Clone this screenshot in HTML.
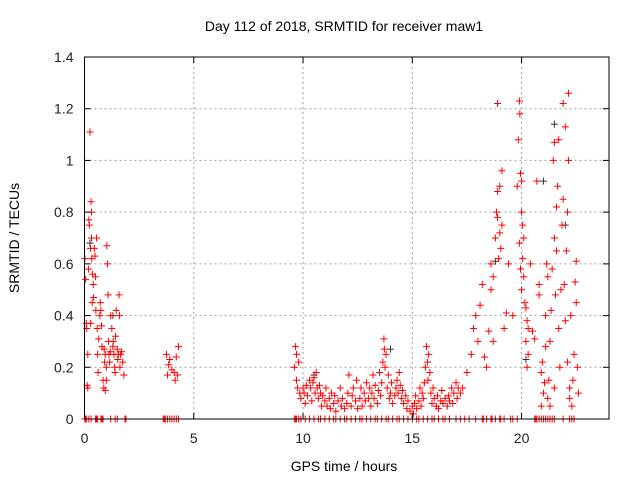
<!DOCTYPE html>
<html><head><meta charset="utf-8"><style>
body{margin:0;background:#fff;}
svg{display:block;font-family:"Liberation Sans",sans-serif;}
</style></head><body>
<svg id="chart" width="640" height="480" xmlns="http://www.w3.org/2000/svg">
<rect width="640" height="480" fill="#fff"/>
<text x="344" y="31" font-size="14" text-anchor="middle" fill="#000">Day 112 of 2018, SRMTID for receiver maw1</text>
<text x="344" y="471" font-size="14" text-anchor="middle" fill="#000">GPS time / hours</text>
<text x="19" y="238" font-size="14" text-anchor="middle" fill="#000" transform="rotate(-90 19 238)">SRMTID / TECUs</text>
<g id="grid"></g>
<g id="marks"></g>
<g id="axes"></g>
</svg>
<script>
const xTicks=[0,5,10,15,20];
const xTickLabels=["0","5","10","15","20"];
const yTicks=[0,0.2,0.4,0.6,0.8,1,1.2,1.4];
const yTickLabels=["0","0.2","0.4","0.6","0.8","1","1.2","1.4"];
const redX=[0.02,0.05,0.08,0.1,0.12,0.15,0.18,0.2,0.22,0.25,0.27,0.3,0.32,0.33,0.35,0.37,0.4,0.42,0.45,0.48,0.5,0.52,0.55,0.58,0.6,0.62,0.65,0.7,0.72,0.75,0.78,0.8,0.85,0.88,0.9,0.92,0.95,1.0,1.02,1.05,1.08,1.1,1.12,1.15,1.18,1.2,1.25,1.3,1.32,1.35,1.38,1.4,1.42,1.45,1.5,1.52,1.55,1.58,1.6,1.62,1.65,1.7,1.75,1.8,1.0,0.95,0.28,0.15,0.32,
3.75,3.8,3.85,3.9,4.0,4.1,4.2,4.3,4.25,4.15,
9.6,9.65,9.7,9.7,9.75,9.8,9.85,9.9,10.0,10.05,10.1,10.15,10.2,10.3,10.35,10.4,10.45,10.5,10.55,10.6,10.65,10.7,10.75,10.8,10.85,10.9,11.0,11.05,11.1,11.2,11.25,11.3,11.4,11.45,11.5,11.6,11.7,11.75,11.8,11.9,12.0,12.05,12.1,12.2,12.25,12.3,12.4,12.45,12.5,12.6,12.65,12.7,12.8,12.85,12.9,13.0,13.05,13.1,13.15,13.2,13.25,13.3,13.4,13.45,13.5,13.55,13.6,13.65,13.7,13.72,13.75,13.8,13.85,13.9,13.95,14.0,14.05,14.1,14.2,14.25,14.3,14.35,14.4,14.45,14.5,14.55,14.6,14.7,14.75,14.8,14.9,15.0,15.05,15.1,15.15,15.2,15.3,15.35,15.4,15.45,15.5,15.55,15.6,15.65,15.7,15.72,15.75,15.8,15.85,15.9,15.95,16.0,16.1,16.15,16.2,16.3,16.35,16.4,16.5,16.6,16.65,16.7,16.8,16.85,16.9,17.0,17.05,17.1,
17.2,17.3,17.5,17.7,17.8,17.9,18.0,18.1,18.2,18.3,18.4,18.5,18.6,18.6,18.7,18.7,18.8,18.85,18.9,18.9,19.0,19.0,19.05,19.1,19.1,18.9,18.95,19.2,19.3,19.4,19.6,19.8,19.85,19.9,19.92,19.95,20.0,20.0,20.05,20.1,20.05,20.1,20.15,20.2,20.25,20.3,20.3,19.95,19.9,20.0,20.2,20.25,20.4,20.5,20.6,20.7,20.8,20.8,20.9,20.95,21.0,21.05,21.1,21.1,21.15,21.2,21.25,21.3,21.3,21.35,21.4,21.45,21.5,21.5,21.55,21.6,21.6,21.65,21.7,21.7,21.75,21.8,21.85,21.9,21.9,21.95,22.0,22.0,22.05,22.1,22.1,22.15,22.15,22.2,22.2,22.25,22.3,22.35,22.4,22.45,22.5,22.5,22.55,22.6,21.5,21.2,20.9];
const redY=[0.62,0.54,0.37,0.35,0.13,0.25,0.58,0.77,0.75,1.11,0.66,0.84,0.8,0.62,0.45,0.56,0.52,0.47,0.66,0.63,0.55,0.42,0.7,0.35,0.25,0.18,0.31,0.4,0.45,0.42,0.36,0.28,0.15,0.12,0.27,0.22,0.25,0.2,0.67,0.6,0.48,0.3,0.25,0.22,0.26,0.4,0.35,0.28,0.3,0.25,0.2,0.18,0.32,0.42,0.27,0.23,0.25,0.48,0.4,0.2,0.25,0.26,0.22,0.17,0.15,0.11,0.37,0.12,0.7,
0.25,0.17,0.21,0.23,0.19,0.18,0.24,0.28,0.17,0.15,
0.2,0.28,0.25,0.15,0.12,0.22,0.1,0.08,0.12,0.1,0.06,0.13,0.09,0.15,0.12,0.07,0.14,0.16,0.1,0.18,0.12,0.08,0.13,0.1,0.05,0.09,0.07,0.12,0.05,0.08,0.04,0.1,0.06,0.09,0.03,0.07,0.12,0.05,0.08,0.04,0.06,0.1,0.17,0.05,0.09,0.12,0.07,0.15,0.04,0.08,0.12,0.05,0.1,0.07,0.14,0.08,0.12,0.05,0.1,0.17,0.08,0.13,0.06,0.11,0.18,0.09,0.14,0.22,0.31,0.27,0.2,0.25,0.12,0.17,0.08,0.1,0.14,0.06,0.09,0.12,0.15,0.1,0.18,0.13,0.08,0.11,0.06,0.09,0.04,0.07,0.03,0.05,0.02,0.06,0.09,0.04,0.07,0.12,0.05,0.1,0.08,0.14,0.2,0.28,0.22,0.15,0.25,0.18,0.1,0.06,0.12,0.08,0.05,0.09,0.04,0.07,0.11,0.06,0.08,0.05,0.09,0.07,0.12,0.06,0.1,0.14,0.08,0.12,
0.1,0.12,0.18,0.25,0.35,0.4,0.3,0.44,0.52,0.24,0.2,0.34,0.5,0.6,0.55,0.3,0.7,0.8,0.88,1.22,0.9,0.72,0.66,0.96,0.75,0.78,0.62,0.35,0.41,0.6,0.4,0.9,1.08,1.23,1.18,0.95,0.92,0.8,0.75,0.7,0.62,0.55,0.45,0.43,0.38,0.35,0.25,0.58,0.68,0.5,0.3,0.2,0.6,0.34,0.31,0.92,0.52,0.48,0.18,0.22,0.1,0.14,0.28,0.4,0.6,0.55,0.15,0.05,0.3,0.42,0.58,1.0,1.07,0.7,0.48,0.82,0.65,0.9,1.08,0.35,0.2,0.5,0.75,0.85,1.22,0.52,1.13,0.38,0.65,0.8,0.22,1.26,1.0,0.08,0.12,0.4,0.05,0.15,0.25,0.53,0.61,0.45,0.2,0.1,0.12,0.08,0.05];
const blackX=[18.8,21.0,21.5,20.2,14.0,22.0,1.3,0.25,10.5];
const blackY=[0.61,0.92,1.14,0.23,0.27,0.75,0.4,0.68,0.17];
const zeroX=[0.02,0.05,0.1,0.2,0.3,0.5,0.55,0.6,0.75,0.8,0.85,1.2,1.4,1.5,1.85,1.9,3.6,3.65,3.7,3.8,3.9,4.0,4.1,4.2,4.3,9.6,9.65,9.7,9.8,9.9,10.1,10.3,10.5,10.7,10.8,11.0,11.2,11.4,11.5,11.7,11.9,12.0,12.2,12.4,12.6,12.7,12.9,13.1,13.3,13.4,13.6,13.8,13.9,14.1,14.3,14.4,14.6,14.8,15.0,15.2,15.3,15.5,15.7,15.9,16.0,16.2,16.4,16.5,16.7,17.0,17.2,17.4,17.6,17.9,18.2,18.25,18.4,18.6,18.65,18.8,19.0,19.05,19.2,19.5,19.6,19.8,20.6,20.65,20.7,20.8,20.9,21.0,21.1,21.2,21.3,21.4,21.5,21.9,22.2,22.3,22.4];

const L=84.5,R=609,T=57,B=419,XMAX=24,YMAX=1.4;
const sx=v=>L+v/XMAX*(R-L);
const sy=v=>B-v/YMAX*(B-T);
const NS="http://www.w3.org/2000/svg";
function mk(tag,attrs,parent){const e=document.createElementNS(NS,tag);for(const k in attrs)e.setAttribute(k,attrs[k]);parent.appendChild(e);return e;}
const grid=document.getElementById('grid'),axes=document.getElementById('axes'),marks=document.getElementById('marks');
xTicks.forEach((t,i)=>{const x=sx(t);
 if(t>0){const g=mk('line',{x1:x,x2:x,y1:T,y2:B,stroke:'#a0a0a0','stroke-dasharray':'2,3','stroke-width':1},grid);
 
 }
 mk('line',{x1:x,x2:x,y1:B,y2:B-6,stroke:'#000'},axes);
 mk('line',{x1:x,x2:x,y1:T,y2:T+6,stroke:'#000'},axes);
 const tx=mk('text',{x:x,y:B+24,'font-size':14,'text-anchor':'middle',fill:'#222'},axes);tx.textContent=xTickLabels[i];
 
 
});
yTicks.forEach((t,i)=>{const y=sy(t);
 if(t>0&&t<YMAX){const g=mk('line',{x1:L,x2:R,y1:y,y2:y,stroke:'#a0a0a0','stroke-dasharray':'2,3','stroke-width':1},grid);
 
 }
 mk('line',{x1:L,x2:L+6,y1:y,y2:y,stroke:'#000'},axes);
 mk('line',{x1:R,x2:R-6,y1:y,y2:y,stroke:'#000'},axes);
 const tx=mk('text',{x:L-11,y:y+5,'font-size':14,'text-anchor':'end',fill:'#222'},axes);tx.textContent=yTickLabels[i];
 
 
});
const frame=mk('rect',{x:L,y:T,width:R-L,height:B-T,fill:'none',stroke:'#000','stroke-width':1},axes);


function plus(x,y,c){const p=mk('path',{d:`M${x-3.5},${y}h7M${x},${y-3.5}v7`,stroke:c,'stroke-width':1,fill:'none'},marks);
 
 }
blackX.forEach((v,i)=>plus(sx(v),sy(blackY[i]),'#333'));
redX.forEach((v,i)=>plus(sx(v),sy(redY[i]),'#ff0000'));
zeroX.forEach(v=>plus(sx(v),sy(0),'#ff0000'));
</script>
</body></html>
